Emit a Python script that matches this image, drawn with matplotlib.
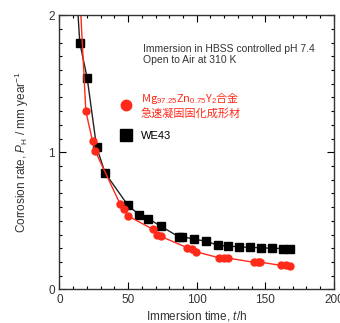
import matplotlib
matplotlib.use('Agg')
import matplotlib.pyplot as plt
from matplotlib.ticker import MultipleLocator

plt.rcParams['font.family'] = ['Liberation Sans', 'Noto Sans CJK JP', 'DejaVu Sans']
plt.rcParams['mathtext.fontset'] = 'custom'
plt.rcParams['mathtext.rm'] = 'Liberation Sans'
plt.rcParams['mathtext.it'] = 'Liberation Sans:italic'

# Mg97.25Zn0.75Y2 rapidly solidified alloy (red circles)
mg_time = [13.5, 19.2, 24.1, 26.0, 44.3, 47.2, 50.1, 68.2, 71.4, 73.9,
           93.2, 96.4, 99.3, 116.2, 119.7, 122.6, 141.5, 144.4, 146.4,
           161.4, 164.8, 167.7]
mg_rate = [2.4, 1.30, 1.08, 1.01, 0.62, 0.585, 0.535, 0.438, 0.398, 0.386,
           0.304, 0.294, 0.275, 0.231, 0.231, 0.229, 0.198, 0.199, 0.199,
           0.175, 0.175, 0.172]

# WE43 (black squares)
we_time = [11.0, 14.8, 20.2, 27.0, 33.2, 49.9, 58.0, 64.8, 74.0, 86.9,
           89.6, 97.8, 106.5, 115.3, 123.0, 130.8, 139.0, 146.8, 154.6,
           162.8, 167.7]
we_rate = [2.4, 1.80, 1.54, 1.04, 0.85, 0.613, 0.546, 0.516, 0.46, 0.384,
           0.384, 0.367, 0.352, 0.323, 0.316, 0.311, 0.306, 0.304, 0.300,
           0.298, 0.296]

mg_label = 'Mg$_{97.25}$Zn$_{0.75}$Y$_{2}$合金\n急速凝固固化成形材'
red = '#ff2a1a'

fig = plt.figure(figsize=(3.4, 3.23), dpi=100)
ax = fig.add_axes([0.175, 0.104, 0.807, 0.849])

ax.plot(mg_time, mg_rate, '-o', color=red, lw=1.0, ms=5,
        mec=red, label=mg_label)
ax.plot(we_time, we_rate, '-s', color='#222222', lw=1.0, ms=5.5,
        mfc='black', mec='black', label='WE43', zorder=1)

ax.set_xlim(0, 200)
ax.set_ylim(0, 2)
ax.xaxis.set_major_locator(MultipleLocator(50))
ax.xaxis.set_minor_locator(MultipleLocator(10))
ax.yaxis.set_major_locator(MultipleLocator(1))
ax.yaxis.set_minor_locator(MultipleLocator(0.1))
ax.tick_params(which='both', direction='in', top=True, right=True,
               labelsize=8.5, labelcolor='#333333', width=0.8)
ax.tick_params(which='major', length=5)
ax.tick_params(which='minor', length=2.5)
for s in ax.spines.values():
    s.set_linewidth(1.0)
    s.set_color('#333333')

ax.set_xlabel('Immersion time, $t$/h', fontsize=8.5, color='#333333', labelpad=2)
ax.set_ylabel('Corrosion rate, $P_\\mathrm{H}$ / mm year$^{-1}$', fontsize=8.5,
              color='#333333', labelpad=12)

ax.text(0.305, 0.895, 'Immersion in HBSS controlled pH 7.4\nOpen to Air at 310 K',
        transform=ax.transAxes, fontsize=7.5, color='#333333', va='top',
        linespacing=1.15)

leg = ax.legend(loc='upper left', bbox_to_anchor=(0.19, 0.76), frameon=False,
                fontsize=8, markerscale=1.5, handlelength=0.8,
                handletextpad=0.9, labelspacing=1.1, numpoints=1)
for h in leg.legend_handles:
    h.set_linestyle('none')
t0 = leg.get_texts()[0]
t0.set_color(red)
t0.set_fontfamily(['Noto Sans CJK JP', 'Liberation Sans'])

fig.savefig('out.png', dpi=100, facecolor='white')
